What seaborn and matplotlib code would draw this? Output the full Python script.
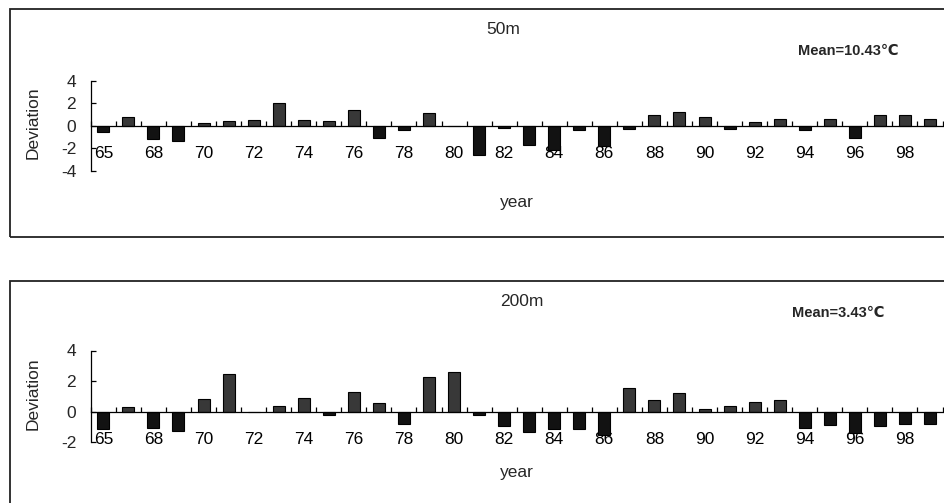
import numpy as np
import pandas as pd
import matplotlib
matplotlib.use("Agg")
import matplotlib.pyplot as plt
import seaborn as sns
from matplotlib.patches import Rectangle

years = ['65', '66', '68', '69', '70', '71', '72', '73', '74', '75', '76', '77',
         '78', '79', '80', '81', '82', '83', '84', '85', '86', '87', '88', '89',
         '90', '91', '92', '93', '94', '95', '96', '97', '98', '99']
dev_50m = [-0.55, 0.77, -1.19, -1.30, 0.27, 0.39, 0.50, 2.00, 0.50, 0.39, 1.39, -1.07,
           -0.41, 1.16, 0.00, -2.58, -0.18, -1.72, -2.10, -0.41, -1.80, -0.30, 1.00, 1.24,
           0.74, -0.30, 0.36, 0.65, -0.41, 0.65, -1.04, 1.00, 1.00, 0.65]
dev_200m = [-1.13, 0.30, -1.04, -1.24, 0.85, 2.48, 0.00, 0.39, 0.93, -0.24, 1.28, 0.54,
            -0.78, 2.30, 2.59, -0.24, -0.96, -1.33, -1.13, -1.13, -1.52, 1.57, 0.74, 1.20,
            0.20, 0.39, 0.63, 0.74, -1.04, -0.87, -1.41, -0.96, -0.78, -0.78]
tick_labels = ['65', '68', '70', '72', '74', '76', '78', '80', '82', '84', '86',
               '88', '90', '92', '94', '96', '98']
panel_titles = ['50m', '200m']
mean_texts = ['Mean=10.43\u2103', 'Mean=3.43\u2103']
y_ticks = [[-4, -2, 0, 2, 4], [-2, 0, 2, 4]]
y_lims = [(-4, 4), (-2, 4)]

sns.set_style("white")
plt.rcParams['font.family'] = ['Liberation Sans', 'DejaVu Sans']

W, H = 945, 503
fig = plt.figure(figsize=(W / 100, H / 100), dpi=100)

def fx(px):
    return px / W

def fy(py):
    return 1 - py / H

# frames
fig.add_artist(Rectangle((fx(10), fy(236.7)), 1.2, fy(9.5) - fy(236.7),
                         transform=fig.transFigure, fill=False, edgecolor='#222222',
                         linewidth=1.3, clip_on=False))
fig.add_artist(Rectangle((fx(10), -0.2), 1.2, fy(280.7) + 0.2,
                         transform=fig.transFigure, fill=False, edgecolor='#222222',
                         linewidth=1.3, clip_on=False))

ax_left = 90.8
ax_w = 851.7
axes_px = [(80.7, 171.0), (350.5, 442.4)]
series = [dev_50m, dev_200m]

pal = {'pos': '#383838', 'neg': '#121212'}
fs = 12.5

for i in range(2):
    top, bot = axes_px[i]
    ax = fig.add_axes([fx(ax_left), fy(bot), ax_w / W, (bot - top) / H])
    ax.patch.set_alpha(0)
    df = pd.DataFrame({'year': years, 'dev': series[i]})
    df['sign'] = np.where(df['dev'] >= 0, 'pos', 'neg')
    sns.barplot(data=df, x='year', y='dev', hue='sign', palette=pal, order=years,
                dodge=False, width=0.48, edgecolor='black', linewidth=0.8,
                legend=False, ax=ax)
    ax.set_xlim(-0.5, len(years) - 0.5)
    ax.set_ylim(*y_lims[i])
    ax.set_xlabel('')
    ax.set_ylabel('Deviation', fontsize=fs)
    ax.yaxis.set_label_coords(-0.059, 0.53)
    ax.spines['top'].set_visible(False)
    ax.spines['right'].set_visible(False)
    ax.spines['bottom'].set_position(('data', 0))
    for s in ['left', 'bottom']:
        ax.spines[s].set_color('black')
        ax.spines[s].set_linewidth(0.9)
    # labels every 2nd category
    ax.set_xticks(np.arange(0, len(years), 2))
    ax.set_xticklabels(tick_labels, fontsize=fs)
    ax.set_xticks(np.arange(-0.5, len(years), 1), minor=True)
    ax.tick_params(axis='x', which='major', length=0, pad=14.5, colors='black')
    ax.tick_params(axis='x', which='minor', direction='in', length=3.6, width=0.9,
                   color='black', bottom=True)
    ax.set_yticks(y_ticks[i])
    ax.set_yticklabels([str(v) for v in y_ticks[i]], fontsize=fs)
    ax.tick_params(axis='y', direction='in', length=3.6, width=0.9, pad=10.5,
                   left=True, color='black')
    ax.grid(False)

fig.text(fx(503), fy(29), panel_titles[0], ha='center', va='center', fontsize=fs)
fig.text(fx(522), fy(301), panel_titles[1], ha='center', va='center', fontsize=fs)
fig.text(fx(798), fy(51), mean_texts[0], ha='left', va='center', fontsize=10.5,
         fontweight='bold')
fig.text(fx(792), fy(313), mean_texts[1], ha='left', va='center', fontsize=10.5,
         fontweight='bold')
fig.text(fx(517), fy(203), 'year', ha='center', va='center', fontsize=fs)
fig.text(fx(517), fy(473), 'year', ha='center', va='center', fontsize=fs)

fig.savefig('out.png', dpi=100)
